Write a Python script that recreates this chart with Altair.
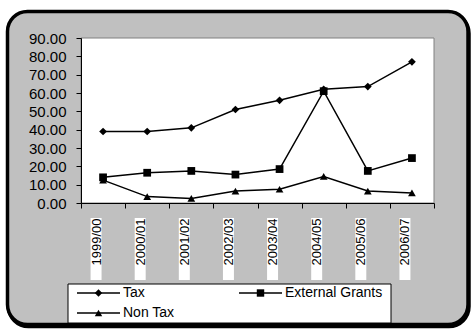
import altair as alt
import pandas as pd

categories = ["1999/00", "2000/01", "2001/02", "2002/03", "2003/04", "2004/05", "2005/06", "2006/07"]
tax = [39.0, 39.0, 41.0, 51.0, 56.0, 62.0, 63.5, 77.0]
external_grants = [14.0, 16.5, 17.5, 15.5, 18.5, 61.0, 17.5, 24.5]
non_tax = [12.5, 3.5, 2.5, 6.5, 7.5, 14.5, 6.5, 5.5]
series_names = ["Tax", "External Grants", "Non Tax"]
series_shapes = ["diamond", "square", "triangle-up"]
y_ticks = [0, 10, 20, 30, 40, 50, 60, 70, 80, 90]

rows = []
for name, vals in zip(series_names, [tax, external_grants, non_tax]):
    for c, v in zip(categories, vals):
        rows.append({"period": c, "series": name, "value": v})
df = pd.DataFrame(rows)

W, H = 353, 165
FONT = "Liberation Sans"
one = alt.Data(values=[{}])

x_enc = alt.X("period:N", sort=categories, scale=alt.Scale(domain=categories, paddingInner=0, paddingOuter=0),
              axis=alt.Axis(title=None, tickBand="extent", tickSize=5, tickColor="black", domainColor="black",
                            labelAngle=270, labelFontSize=13, labelFont=FONT, labelColor="black",
                            labelPadding=10, labelOffset=-7, zindex=1, grid=False))
y_enc = alt.Y("value:Q", scale=alt.Scale(domain=[0, 90], nice=False),
              axis=alt.Axis(title=None, values=y_ticks, format=".2f", tickSize=5, tickColor="black",
                            domainColor="black", labelFontSize=15, labelFont=FONT, labelColor="black",
                            labelPadding=10, zindex=1, grid=False))

shadow = alt.Chart(one).mark_rect(cornerRadius=20, fill="black", stroke="black", strokeWidth=3.5, clip=False).encode(
    x=alt.value(-73.5 + 1), x2=alt.value(387 + 1), y=alt.value(-26.5 + 2), y2=alt.value(286.5 + 2))
frame = alt.Chart(one).mark_rect(cornerRadius=20, fill="#c0c0c0", stroke="black", strokeWidth=3.5, clip=False).encode(
    x=alt.value(-73.5), x2=alt.value(387), y=alt.value(-26.5), y2=alt.value(286.5))
plotbg = alt.Chart(one).mark_rect(fill="white", stroke="#808080", strokeWidth=1).encode(
    x=alt.value(0), x2=alt.value(W), y=alt.value(0), y2=alt.value(H))
labelbg = alt.Chart(pd.DataFrame({"period": categories})).mark_bar(color="white", size=11, xOffset=-7, clip=False).encode(
    x=x_enc, y=alt.value(180), y2=alt.value(242))
legbox = alt.Chart(one).mark_rect(fill="white", stroke="black", strokeWidth=1, clip=False).encode(
    x=alt.value(-13), x2=alt.value(310), y=alt.value(246), y2=alt.value(285))

lines = alt.Chart(df).mark_line(color="black", strokeWidth=1.5).encode(
    x=x_enc, y=y_enc, detail="series:N")
points = alt.Chart(df).mark_point(filled=True, color="black", opacity=1, size=60).encode(
    x=x_enc, y=y_enc,
    shape=alt.Shape("series:N", scale=alt.Scale(domain=series_names, range=series_shapes), legend=None))

legend_layers = []
for i, (name, shp) in enumerate(zip(series_names, series_shapes)):
    x0 = -4 + (i % 2) * 162
    yy = 255 + (i // 2) * 20
    legend_layers.append(alt.Chart(one).mark_rule(color="black", strokeWidth=1.5, clip=False).encode(
        x=alt.value(x0), x2=alt.value(x0 + 43), y=alt.value(yy)))
    legend_layers.append(alt.Chart(one).mark_point(filled=True, color="black", opacity=1, size=55, shape=shp, clip=False).encode(
        x=alt.value(x0 + 21.5), y=alt.value(yy)))
    legend_layers.append(alt.Chart(one).mark_text(align="left", baseline="middle", fontSize=14, font=FONT,
                                                   color="black", clip=False).encode(
        x=alt.value(x0 + 46), y=alt.value(yy), text=alt.value(name)))

chart = alt.layer(shadow, frame, plotbg, labelbg, legbox, lines, points, *legend_layers).properties(
    width=W, height=H,
    autosize=alt.AutoSizeParams(type="none"),
    padding={"left": 81, "top": 38, "right": 39, "bottom": 128},
    background="white",
).configure_view(stroke=None)

chart.save("out.html", embed_options={"renderer": "svg", "actions": False})
